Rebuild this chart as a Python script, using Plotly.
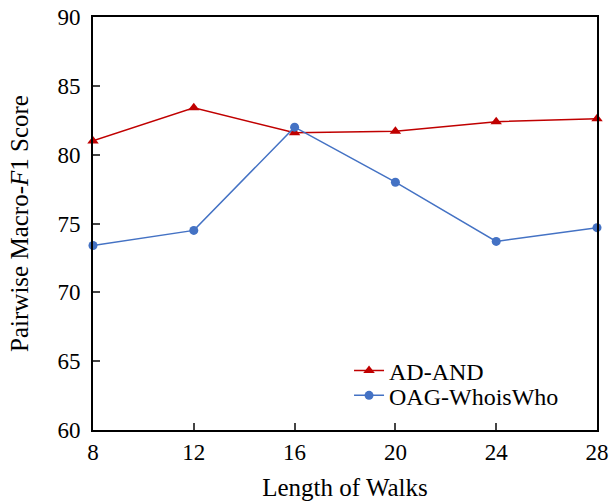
import plotly.graph_objects as go

walks = [8, 12, 16, 20, 24, 28]
ad_and = [81.0, 83.4, 81.6, 81.7, 82.4, 82.6]
oag = [73.4, 74.5, 82.0, 78.0, 73.7, 74.7]
x_ticks = [8, 12, 16, 20, 24, 28]
y_ticks = [60, 65, 70, 75, 80, 85, 90]

font_family = "Liberation Serif, DejaVu Serif, serif"

fig = go.Figure()
fig.add_trace(go.Scatter(
    x=walks, y=ad_and, name="AD-AND", mode="lines+markers",
    line=dict(color="#C00000", width=1.5),
    marker=dict(symbol="triangle-up", size=10, color="#C00000"),
    cliponaxis=False, legend="legend",
))
fig.add_trace(go.Scatter(
    x=walks, y=oag, name="OAG-WhoisWho", mode="lines+markers",
    line=dict(color="#4472C4", width=1.5),
    marker=dict(symbol="circle", size=9, color="#4472C4"),
    cliponaxis=False, legend="legend2",
))

leg_common = dict(xanchor="left", yanchor="middle", bgcolor="rgba(0,0,0,0)",
                  font=dict(size=24), itemwidth=30)

fig.update_layout(
    width=616, height=501,
    margin=dict(l=93, r=19, t=17, b=71),
    plot_bgcolor="white", paper_bgcolor="white",
    font=dict(family=font_family, size=23, color="black"),
    showlegend=True,
    legend=dict(x=0.508, y=0.143, **leg_common),
    legend2=dict(x=0.508, y=0.083, **leg_common),
    xaxis=dict(
        range=[8, 28], tickvals=x_ticks, ticks="inside", ticklen=7,
        tickwidth=1.5, showline=True, linewidth=2, linecolor="black",
        mirror=True, showgrid=False, zeroline=False, automargin=False,
        ticklabelstandoff=0,
        title=dict(text="Length of Walks", standoff=22, font=dict(size=25)),
    ),
    yaxis=dict(
        range=[60, 90], tickvals=y_ticks, ticks="inside", ticklen=7,
        tickwidth=1.5, showline=True, linewidth=2, linecolor="black",
        mirror=True, showgrid=False, zeroline=False, automargin=False,
        ticklabelstandoff=6,
        title=dict(text="Pairwise Macro-<i>F</i>1 Score", standoff=22, font=dict(size=25)),
    ),
)

fig.write_html("out.html", config={"displayModeBar": False},
               post_script="document.body.style.margin='0px';document.body.style.padding='0px';")
